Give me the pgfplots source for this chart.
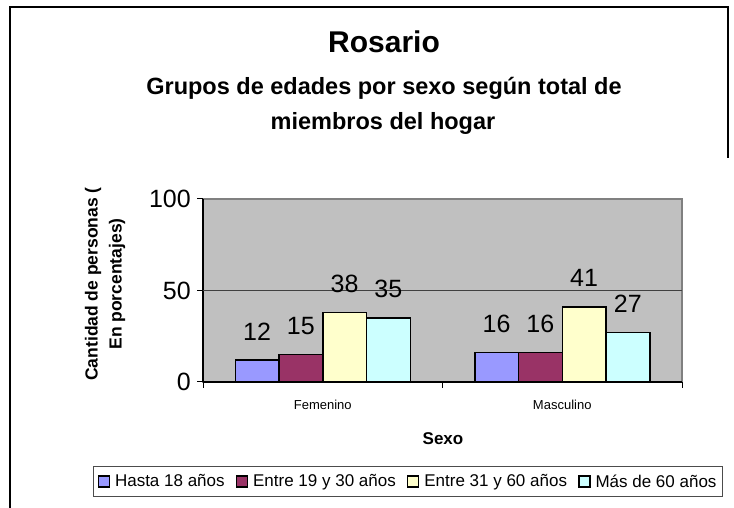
\documentclass[border=0pt]{standalone}
\usepackage{pgfplots}
\pgfplotsset{compat=1.18}
\usepackage{fontspec}
\setmainfont{Liberation Sans}
\definecolor{c1}{HTML}{9999FF}
\definecolor{c2}{HTML}{993366}
\definecolor{c3}{HTML}{FFFFCC}
\definecolor{c4}{HTML}{CCFFFF}
\definecolor{pa}{HTML}{C0C0C0}
\definecolor{pb}{HTML}{808080}
\begin{document}
\begin{tikzpicture}[x=1bp,y=1bp]
\path[use as bounding box] (0,0) rectangle (734,508);
\draw[line width=1.2bp] (10,0) -- (10,501) -- (728,501) -- (728,350);
\node[font=\fontsize{30bp}{34bp}\selectfont\bfseries, anchor=base] at (384,455) {Rosario};
\node[font=\fontsize{23.5bp}{28bp}\selectfont\bfseries, anchor=base] at (384,413) {Grupos de edades por sexo según total de};
\node[font=\fontsize{23.5bp}{28bp}\selectfont\bfseries, anchor=base] at (383,378) {miembros del hogar};
\node[rotate=90, align=center, font=\fontsize{17.5bp}{24bp}\selectfont\bfseries] at (105,224) {Cantidad de personas (\\En porcentajes)};
\node[font=\fontsize{17bp}{20bp}\selectfont\bfseries, anchor=base] at (443,63) {Sexo};
\begin{axis}[
  at={(203bp,126bp)}, anchor=south west,
  scale only axis, width=479bp, height=183bp,
  xmin=0, xmax=2, ymin=0, ymax=100, enlargelimits=false,
  axis lines=left, axis line style={-, black, line width=1.2bp},
  axis background/.style={fill=pa, draw=pb, line width=2bp},
  ybar=0pt, bar width=43.75bp,
  xtick={0,1,2}, x tick label as interval,
  xticklabels={Femenino,Masculino},
  ytick={0,50,100},
  tick align=outside, major tick length=6bp,
  tick style={black, line width=1bp},
  /pgf/number format/assume math mode=true,
  xticklabel style={font=\fontsize{13bp}{15bp}\selectfont, yshift=-9bp},
  yticklabel style={font=\fontsize{25bp}{30bp}\selectfont, inner sep=0pt, xshift=-6bp},
  nodes near coords,
  nodes near coords style={font=\fontsize{25bp}{30bp}\selectfont, anchor=base, inner sep=0pt, yshift=20bp},
  legend columns=4,
  legend style={at={(0.428,-0.5437)}, anchor=center, draw=black!70, line width=1bp,
    font=\fontsize{17bp}{20bp}\selectfont, inner xsep=4bp, inner ysep=6bp,
    /tikz/every odd column/.append style={column sep=3bp},
    /tikz/every even column/.append style={column sep=9bp}},
  legend image code/.code={\draw[#1, draw=black, line width=1.5bp] (0bp,-5.5bp) rectangle (11bp,5.5bp);},
]
\draw[black!75, line width=1bp] (axis cs:0,50) -- (axis cs:2,50);
\addplot[fill=c1, draw=black, line width=1.5bp] coordinates {(0.5,12) (1.5,16)};
\addplot[fill=c2, draw=black, line width=1.5bp] coordinates {(0.5,15) (1.5,16)};
\addplot[fill=c3, draw=black, line width=1.5bp] coordinates {(0.5,38) (1.5,41)};
\addplot[fill=c4, draw=black, line width=1.5bp] coordinates {(0.5,35) (1.5,27)};
\legend{Hasta 18 años, Entre 19 y 30 años, Entre 31 y 60 años, Más de 60 años}
\end{axis}
\end{tikzpicture}
\end{document}
